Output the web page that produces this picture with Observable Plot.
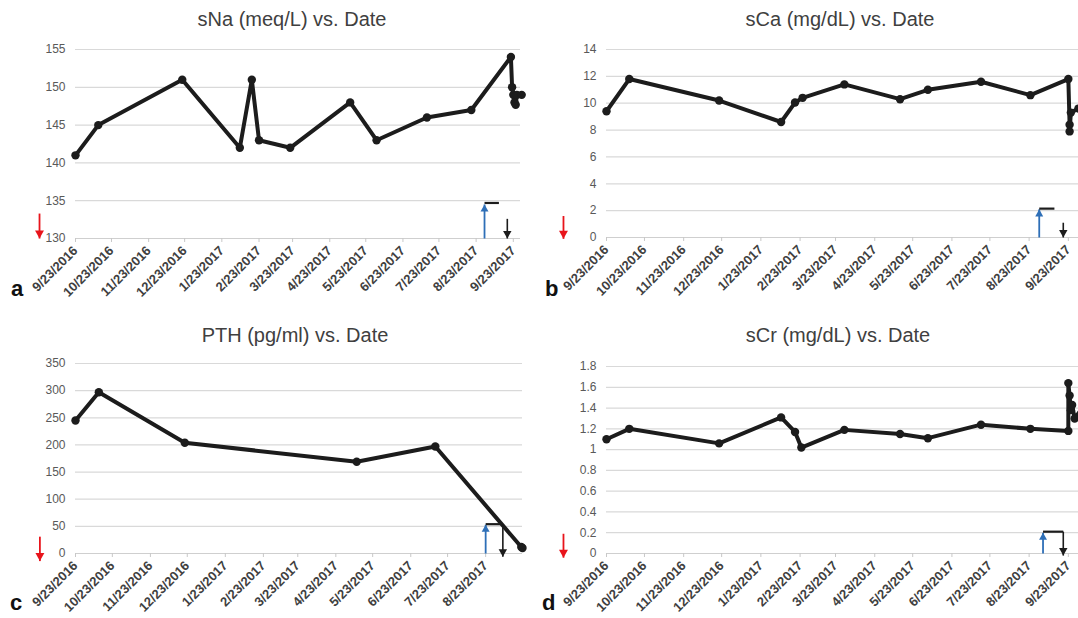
<!DOCTYPE html>
<html><head><meta charset="utf-8">
<script src="https://cdn.jsdelivr.net/npm/d3@7"></script>
<script src="https://cdn.jsdelivr.net/npm/@observablehq/plot@0.6"></script>
<style>
html,body{margin:0;padding:0;background:#fff;}
#root{position:relative;width:1078px;height:618px;overflow:hidden;background:#fff;font-family:"Liberation Sans",Arial,sans-serif;}
.panel{position:absolute;}
.panel svg{max-width:none !important;}
.title{position:absolute;font-size:20px;line-height:24px;color:#404040;white-space:nowrap;transform:translateX(-50%);}
.letter{position:absolute;font-size:22px;line-height:22px;font-weight:bold;color:#111;}
svg g[aria-label="x-axis tick label"]{font-weight:bold;}
</style></head>
<body><div id="root"></div>
<script>
// ---------- data ----------
const titles = ["sNa (meq/L) vs. Date", "sCa (mg/dL) vs. Date", "PTH (pg/ml) vs. Date", "sCr (mg/dL) vs. Date"];
const letters = ["a", "b", "c", "d"];
const xTickLabels = ["9/23/2016","10/23/2016","11/23/2016","12/23/2016","1/23/2017","2/23/2017","3/23/2017","4/23/2017","5/23/2017","6/23/2017","7/23/2017","8/23/2017","9/23/2017"];

const naDates = ["2016-09-23","2016-10-12","2016-12-21","2017-02-07","2017-02-17","2017-02-23","2017-03-21","2017-05-10","2017-06-01","2017-07-13","2017-08-19","2017-09-21","2017-09-22","2017-09-23","2017-09-24","2017-09-25","2017-09-26","2017-09-30"];
const naValues = [141,145,151,142,151,143,142,148,143,146,147,154,150,149,148,147.7,149,149];
const naTicks = [130,135,140,145,150,155];

const caDates = ["2016-09-23","2016-10-11","2016-12-21","2017-02-08","2017-02-19","2017-02-25","2017-03-30","2017-05-13","2017-06-04","2017-07-16","2017-08-24","2017-09-23","2017-09-24","2017-09-24","2017-09-25","2017-10-01","2017-10-09"];
const caValues = [9.4,11.8,10.2,8.6,10.05,10.4,11.4,10.3,11.0,11.6,10.6,11.8,8.4,7.9,9.3,9.6,9.8];
const caTicks = [0,2,4,6,8,10,12,14];

const pthDates = ["2016-09-23","2016-10-12","2016-12-21","2017-05-10","2017-07-13","2017-09-21","2017-09-22"];
const pthValues = [245,297,204,169,197,12,10];
const pthTicks = [0,50,100,150,200,250,300,350];

const crDates = ["2016-09-23","2016-10-11","2016-12-21","2017-02-08","2017-02-19","2017-02-24","2017-03-30","2017-05-13","2017-06-04","2017-07-16","2017-08-24","2017-09-23","2017-09-23","2017-09-24","2017-09-25","2017-09-26","2017-09-28","2017-10-04"];
const crValues = [1.10,1.20,1.06,1.31,1.17,1.02,1.19,1.15,1.11,1.24,1.20,1.18,1.64,1.52,1.38,1.43,1.30,1.40];
const crTicks = [0,0.2,0.4,0.6,0.8,1,1.2,1.4,1.6,1.8];

// annotation markers (dates and values, one per panel a,b,c,d)
const redArrowDate = ["2016-08-24","2016-08-20","2016-08-25","2016-08-20"];
const redArrowFrom = [133.3, 1.6, 31, 0.19];
const redArrowTo   = [130, -0.1, -14, -0.04];
const blueArrowDate = ["2017-08-30","2017-08-31","2017-08-23","2017-09-03"];
const blueArrowFrom = [130, 0, 0, 0];
const blueArrowTo   = [134.5, 2.1, 53, 0.2];
const barEndDate = ["2017-09-11","2017-09-12","2017-09-06","2017-09-19"];
const barLevel   = [134.7, 2.15, 54, 0.21];
const blackArrowDate = ["2017-09-18","2017-09-19","2017-09-06","2017-09-19"];
const blackArrowFrom = [132.6, 1.1, 54, 0.21];
const blackArrowTo   = [130, 0, -6, -0.02];

// ---------- layout ----------
const layout = [
  {left:0,   top:30,  width:540, height:280, mt:19, mb:72, ml:75, mr:20, end:"2017-09-29", titleX:292, titleY:7,   letterX:11,  letterY:278},
  {left:540, top:30,  width:580, height:280, mt:19, mb:73, ml:66, mr:18, end:"2017-10-20", titleX:840, titleY:7,   letterX:545, letterY:278},
  {left:0,   top:340, width:540, height:278, mt:23, mb:65, ml:75, mr:18, end:"2017-09-22", titleX:295, titleY:323, letterX:10,  letterY:592},
  {left:540, top:340, width:580, height:278, mt:26, mb:65, ml:66, mr:18, end:"2017-10-20", titleX:838, titleY:323, letterX:542, letterY:592}
];

const parseISO = s => { const [y,m,d] = s.split("-").map(Number); return new Date(Date.UTC(y, m-1, d)); };
const parseLabel = s => { const [m,d,y] = s.split("/").map(Number); return new Date(Date.UTC(y, m-1, d)); };
const tickDates = xTickLabels.map(parseLabel);
const labelOf = new Map(tickDates.map((d,i) => [+d, xTickLabels[i]]));

const series = [
  {dates:naDates, values:naValues, ticks:naTicks},
  {dates:caDates, values:caValues, ticks:caTicks},
  {dates:pthDates, values:pthValues, ticks:pthTicks},
  {dates:crDates, values:crValues, ticks:crTicks}
];

// filled triangle symbols with the tip at the anchor point
const triDown = {draw(ctx, size){ const s = Math.sqrt(size); const h = s*1.25, w = s*0.7; ctx.moveTo(0,0); ctx.lineTo(-w,-h); ctx.lineTo(w,-h); ctx.closePath(); }};
const triUp = {draw(ctx, size){ const s = Math.sqrt(size); const h = s*1.25, w = s*0.7; ctx.moveTo(0,0); ctx.lineTo(-w,h); ctx.lineTo(w,h); ctx.closePath(); }};

const root = document.getElementById("root");

series.forEach((S, i) => {
  const L = layout[i];
  const data = S.dates.map((d,k) => ({date: parseISO(d), value: S.values[k]}));
  const start = tickDates[0], end = parseISO(L.end);
  const xt = tickDates.filter(d => d <= end);
  const ymin = S.ticks[0], ymax = S.ticks[S.ticks.length-1];

  const red = [{x: parseISO(redArrowDate[i]), y1: redArrowFrom[i], y2: redArrowTo[i]}];
  const blue = [{x: parseISO(blueArrowDate[i]), y1: blueArrowFrom[i], y2: blueArrowTo[i]}];
  const bar = [{x1: parseISO(blueArrowDate[i]), x2: parseISO(barEndDate[i]), y: barLevel[i]}];
  const black = [{x: parseISO(blackArrowDate[i]), y1: blackArrowFrom[i], y2: blackArrowTo[i]}];

  const chart = Plot.plot({
    width: L.width, height: L.height,
    marginTop: L.mt, marginBottom: L.mb, marginLeft: L.ml, marginRight: L.mr,
    x: {type: "utc", domain: [start, end]},
    y: {domain: [ymin, ymax]},
    style: {fontFamily: "'Liberation Sans', Arial, sans-serif", background: "transparent", overflow: "visible", maxWidth: "none"},
    marks: [
      Plot.gridY(S.ticks, {stroke: "#d9d9d9", strokeOpacity: 1, strokeWidth: 1.2}),
      Plot.ruleY([ymin], {stroke: "#cfcfcf", strokeWidth: 1.2}),
      Plot.axisY(S.ticks, {tickSize: 0, tickPadding: 10, fontSize: 12, fill: "#595959", label: null,
        tickFormat: d => String(+d.toFixed(1))}),
      Plot.axisX(xt, {tickSize: 4, tickPadding: 6, tickRotate: -45, stroke: "#c8c8c8", fill: "#404040", fontSize: 13, label: null,
        tickFormat: d => labelOf.get(+d)}),
      Plot.line(data, {x: "date", y: "value", stroke: "#1c1c1c", strokeWidth: 4, strokeLinejoin: "round"}),
      Plot.dot(data, {x: "date", y: "value", r: 4.2, fill: "#1c1c1c"}),
      // red arrow
      Plot.link(red, {x1: "x", x2: "x", y1: "y1", y2: "y2", stroke: "#e8141b", strokeWidth: 1.8}),
      Plot.dot(red, {x: "x", y: "y2", symbol: triDown, r: 3.6, fill: "#e8141b"}),
      // blue arrow
      Plot.link(blue, {x1: "x", x2: "x", y1: "y1", y2: "y2", stroke: "#2e6fb7", strokeWidth: 1.8}),
      Plot.dot(blue, {x: "x", y: "y2", symbol: triUp, r: 3.2, fill: "#2e6fb7"}),
      // black bar
      Plot.link(bar, {x1: "x1", x2: "x2", y1: "y", y2: "y", stroke: "#1c1c1c", strokeWidth: 2.2}),
      // black arrow
      Plot.link(black, {x1: "x", x2: "x", y1: "y1", y2: "y2", stroke: "#1c1c1c", strokeWidth: 1.6}),
      Plot.dot(black, {x: "x", y: "y2", symbol: triDown, r: 3.4, fill: "#1c1c1c"})
    ]
  });

  const wrap = document.createElement("div");
  wrap.className = "panel";
  wrap.style.left = L.left + "px";
  wrap.style.top = L.top + "px";
  wrap.style.width = L.width + "px";
  wrap.style.height = L.height + "px";
  wrap.appendChild(chart);
  root.appendChild(wrap);

  const t = document.createElement("div");
  t.className = "title";
  t.textContent = titles[i];
  t.style.left = L.titleX + "px";
  t.style.top = L.titleY + "px";
  root.appendChild(t);

  const l = document.createElement("div");
  l.className = "letter";
  l.textContent = letters[i];
  l.style.left = L.letterX + "px";
  l.style.top = L.letterY + "px";
  root.appendChild(l);
});
</script></body></html>
